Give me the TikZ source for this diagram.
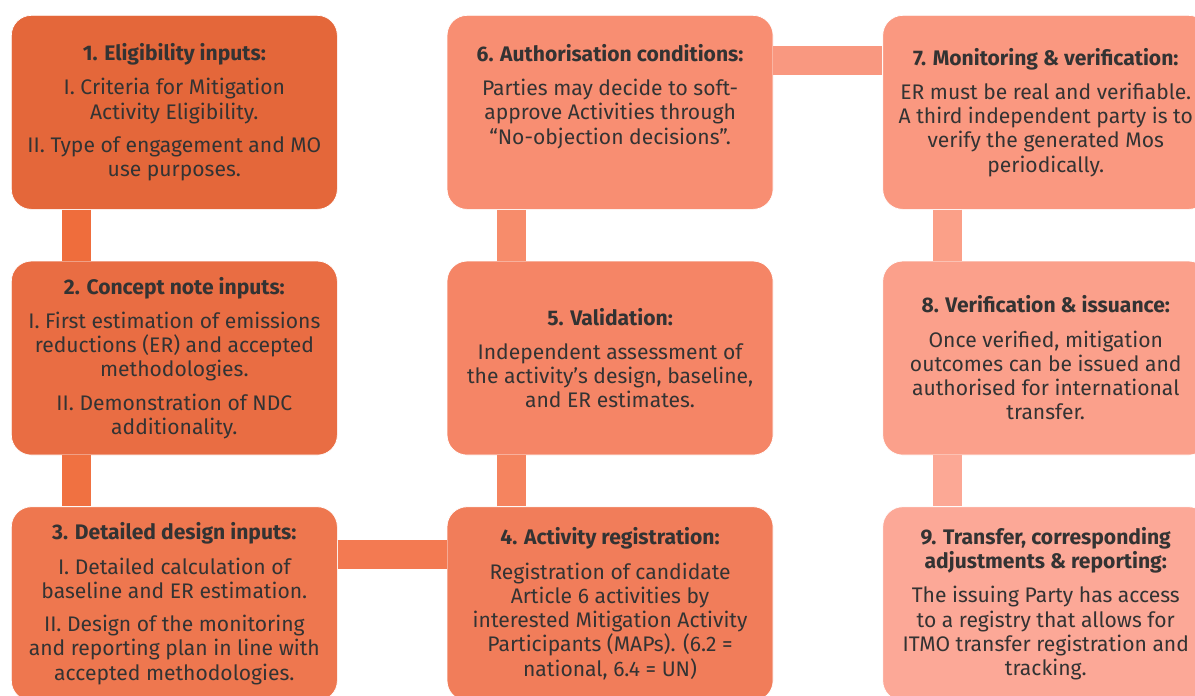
\documentclass[tikz,border=0pt]{standalone}
\usepackage{fontspec}
\setmainfont{Fira Sans}
\usetikzlibrary{positioning}
\usepackage{xcolor}

\definecolor{fillA}{HTML}{E4673A}
\definecolor{fillB}{HTML}{E96D43}
\definecolor{fillC}{HTML}{EE774F}
\definecolor{fillD}{HTML}{F17D5A}
\definecolor{fillE}{HTML}{F58566}
\definecolor{fillF}{HTML}{F88E72}
\definecolor{fillG}{HTML}{FA9880}
\definecolor{fillH}{HTML}{FBA08B}
\definecolor{fillI}{HTML}{FCA897}
\definecolor{linkAB}{HTML}{EF6D3C}
\definecolor{linkBC}{HTML}{F07141}
\definecolor{linkCD}{HTML}{F37A52}
\definecolor{linkDE}{HTML}{F5845F}
\definecolor{linkEF}{HTML}{F78C6B}
\definecolor{linkFG}{HTML}{F99880}
\definecolor{linkGH}{HTML}{FBA088}
\definecolor{linkHI}{HTML}{FCA895}

\begin{document}
\begin{tikzpicture}[
    node distance=1.02cm and 2.18cm,
    box/.style={rectangle, draw=white, line width=0.4pt, rounded corners=0.4cm,
                minimum width=6.52cm, minimum height=3.88cm, inner sep=0pt,
                align=center, text=black!80, font=\fontsize{12}{13.8}\selectfont},
    link/.style={line width=0.58cm}
]
\useasboundingbox (0,0) rectangle (23.9,-13.9);

\node[box, fill=fillA, anchor=north west] (elig) at (0.22,-0.30)
  {\textbf{1. Eligibility inputs:}\\[0.2cm]
   I. Criteria for Mitigation\\ Activity Eligibility.\\[0.18cm]
   II. Type of engagement and MO\\ use purposes.};
\node[box, fill=fillB, below=of elig] (concept)
  {\textbf{2. Concept note inputs:}\\[0.2cm]
   I. First estimation of emissions\\ reductions (ER) and accepted\\ methodologies.\\[0.18cm]
   II. Demonstration of NDC\\ additionality.};
\node[box, fill=fillC, below=of concept] (design)
  {\textbf{3. Detailed design inputs:}\\[0.2cm]
   I. Detailed calculation of\\ baseline and ER estimation.\\[0.18cm]
   II. Design of the monitoring\\ and reporting plan in line with\\ accepted methodologies.};

\node[box, fill=fillD, right=of design] (reg)
  {\textbf{4. Activity registration:}\\[0.2cm]
   Registration of candidate\\ Article 6 activities by\\ interested Mitigation Activity\\
   Participants (MAPs). (6.2 =\\ national, 6.4 = UN)};
\node[box, fill=fillE, above=of reg] (valid)
  {\textbf{5. Validation:}\\[0.2cm]
   Independent assessment of\\ the activity’s design, baseline,\\ and ER estimates.};
\node[box, fill=fillF, above=of valid] (auth)
  {\textbf{6. Authorisation conditions:}\\[0.2cm]
   Parties may decide to soft-\\ approve Activities through\\ “No-objection decisions”.\\[0.1cm] \strut};

\node[box, fill=fillG, right=2.18cm of auth] (monit)
  {\textbf{7. Monitoring \& verification:}\\[0.2cm]
   ER must be real and verifiable.\\ A third independent party is to\\ verify the generated Mos\\ periodically.};
\node[box, fill=fillH, below=of monit] (verif)
  {\textbf{8. Verification \& issuance:}\\[0.2cm]
   Once verified, mitigation\\ outcomes can be issued and\\ authorised for international\\ transfer.};
\node[box, fill=fillI, below=of verif] (transfer)
  {\textbf{9. Transfer, corresponding}\\ \textbf{adjustments \& reporting:}\\[0.2cm]
   The issuing Party has access\\ to a registry that allows for\\ ITMO transfer registration and\\ tracking.};

\draw[link, draw=linkAB] ([xshift=1.3cm]elig.south west) -- ([xshift=1.3cm]concept.north west);
\draw[link, draw=linkBC] ([xshift=1.3cm]concept.south west) -- ([xshift=1.3cm]design.north west);
\draw[link, draw=linkCD] ([yshift=-0.96cm]design.north east) -- ([yshift=-0.96cm]reg.north west);
\draw[link, draw=linkDE] ([xshift=1.3cm]reg.north west) -- ([xshift=1.3cm]valid.south west);
\draw[link, draw=linkEF] ([xshift=1.3cm]valid.north west) -- ([xshift=1.3cm]auth.south west);
\draw[link, draw=linkFG] ([yshift=-0.91cm]auth.north east) -- ([yshift=-0.91cm]monit.north west);
\draw[link, draw=linkGH] ([xshift=1.3cm]monit.south west) -- ([xshift=1.3cm]verif.north west);
\draw[link, draw=linkHI] ([xshift=1.3cm]verif.south west) -- ([xshift=1.3cm]transfer.north west);
\end{tikzpicture}
\end{document}
